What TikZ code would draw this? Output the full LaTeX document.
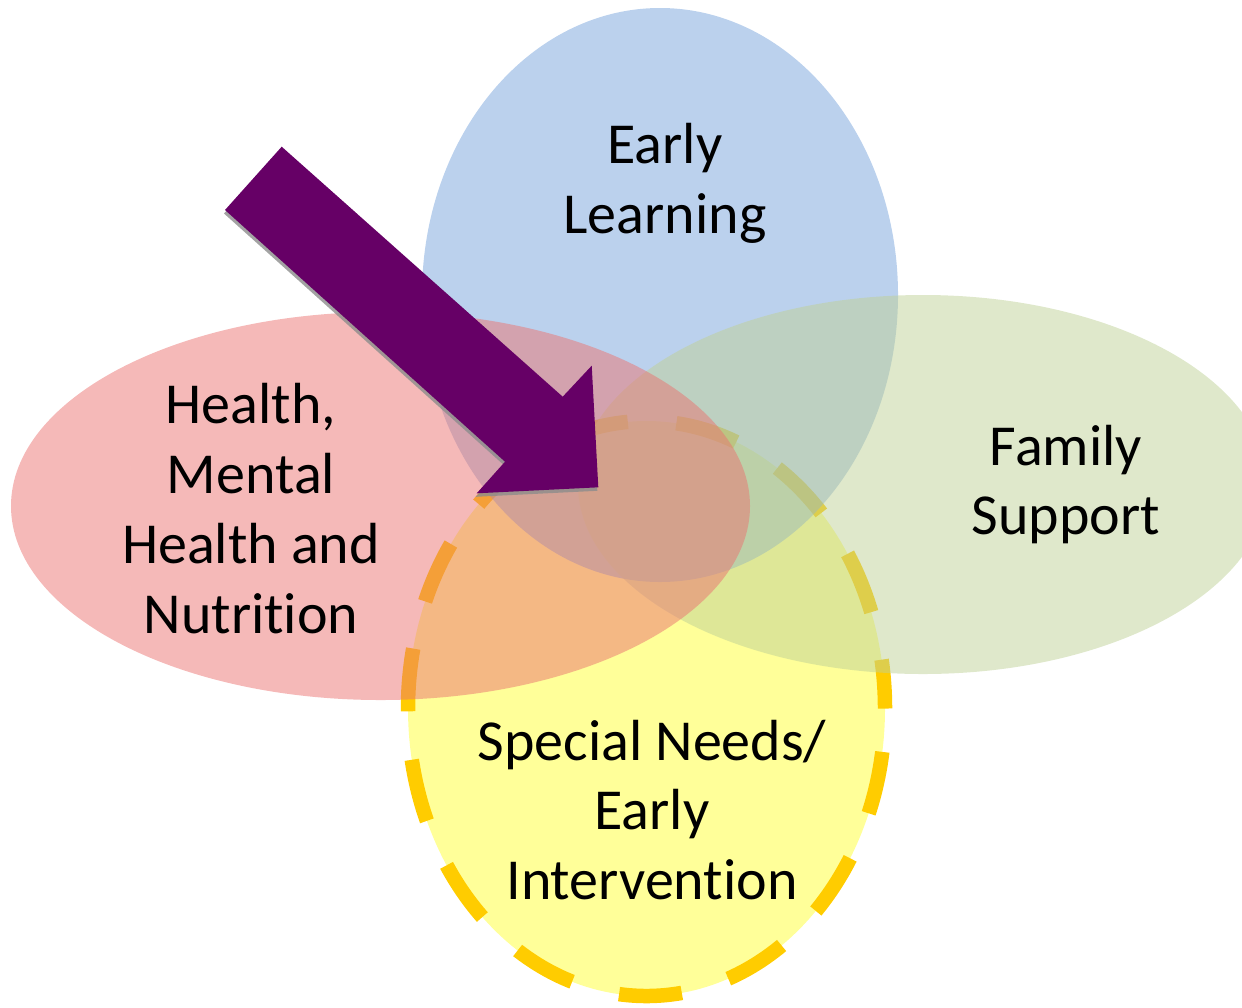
\documentclass[tikz,border=0pt]{standalone}
\usepackage{fontspec}
\setmainfont{Carlito}[Ligatures=NoCommon]
\usepackage{tikz}
\usetikzlibrary{calc}
\usepackage{tkz-euclide}
\usepackage{xcolor}
\definecolor{LearningBlue}{HTML}{77A3DB}
\definecolor{SupportGreen}{HTML}{BFD197}
\definecolor{HealthRed}{HTML}{EB7371}
\definecolor{NeedsYellow}{HTML}{FFFF99}
\definecolor{NeedsBorder}{HTML}{FFCC00}
\definecolor{ArrowPurple}{HTML}{660066}

\begin{document}
\begin{tikzpicture}[area/.style={fill opacity=0.5},
   areatext/.style={align=center,inner sep=0pt,font=\fontsize{16.5}{19.9}\selectfont}]
   \useasboundingbox (0,0) rectangle (12.42,-10.07);
   \clip (0,0) rectangle (12.42,-10.07);

   \tkzDefPoint(6.465,-7.085){n}
   \tkzDefPoint(6.60,-2.95){l}
   \tkzDefPoint(9.23,-4.845){f}
   \tkzDefPoint(3.805,-5.06){h}

   \path[fill=NeedsYellow,draw=NeedsBorder,line width=1.45mm,
    dash pattern=on 6.3mm off 4.87mm,dash phase=1.4mm]
    (n) ellipse [x radius=2.385,y radius=2.875];
   \fill[LearningBlue,area] (l) ellipse [x radius=2.38,y radius=2.87];
   \fill[SupportGreen,area] (f) ellipse [x radius=3.45,y radius=1.895];
   \fill[HealthRed,area] (h) ellipse [x radius=3.695,y radius=1.94];

   \tkzDefPoint(2.817,-1.467){a1}
   \tkzDefPoint(2.25,-2.10){a2}
   \tkzDefPoint(5.05,-4.617){a3}
   \tkzDefPoint(4.767,-4.933){a4}
   \tkzDefPoint(5.983,-4.873){a5}
   \tkzDefPoint(5.917,-3.657){a6}
   \tkzDefPoint(5.627,-3.967){a7}

   \tkzDefPoint(0,0){s0}
   \tkzDefPoint(-0.01,-0.035){s1}
   \tkzDefPointsBy[translation= from s0 to s1](a1,a2,a3,a4,a5,a6,a7){b1,b2,b3,b4,b5,b6,b7}

   \fill[gray!90,opacity=0.8] (b1) -- (b2) -- (b3) -- (b4) -- (b5) -- (b6) -- (b7) -- cycle;
   \fill[ArrowPurple] (a1) -- (a2) -- (a3) -- (a4) -- (a5) -- (a6) -- (a7) -- cycle;

   \node[areatext] (learning) at (6.65,-1.835) {Early\\Learning};
   \node[areatext] (health) at (2.51,-5.085) {Health,\\Mental\\Health and\\Nutrition};
   \node[areatext] (family) at (10.66,-4.845) {Family\\Support};
   \node[areatext] (needs) at (6.52,-8.10) {Special Needs/\\Early\\Intervention};
\end{tikzpicture}
\end{document}
